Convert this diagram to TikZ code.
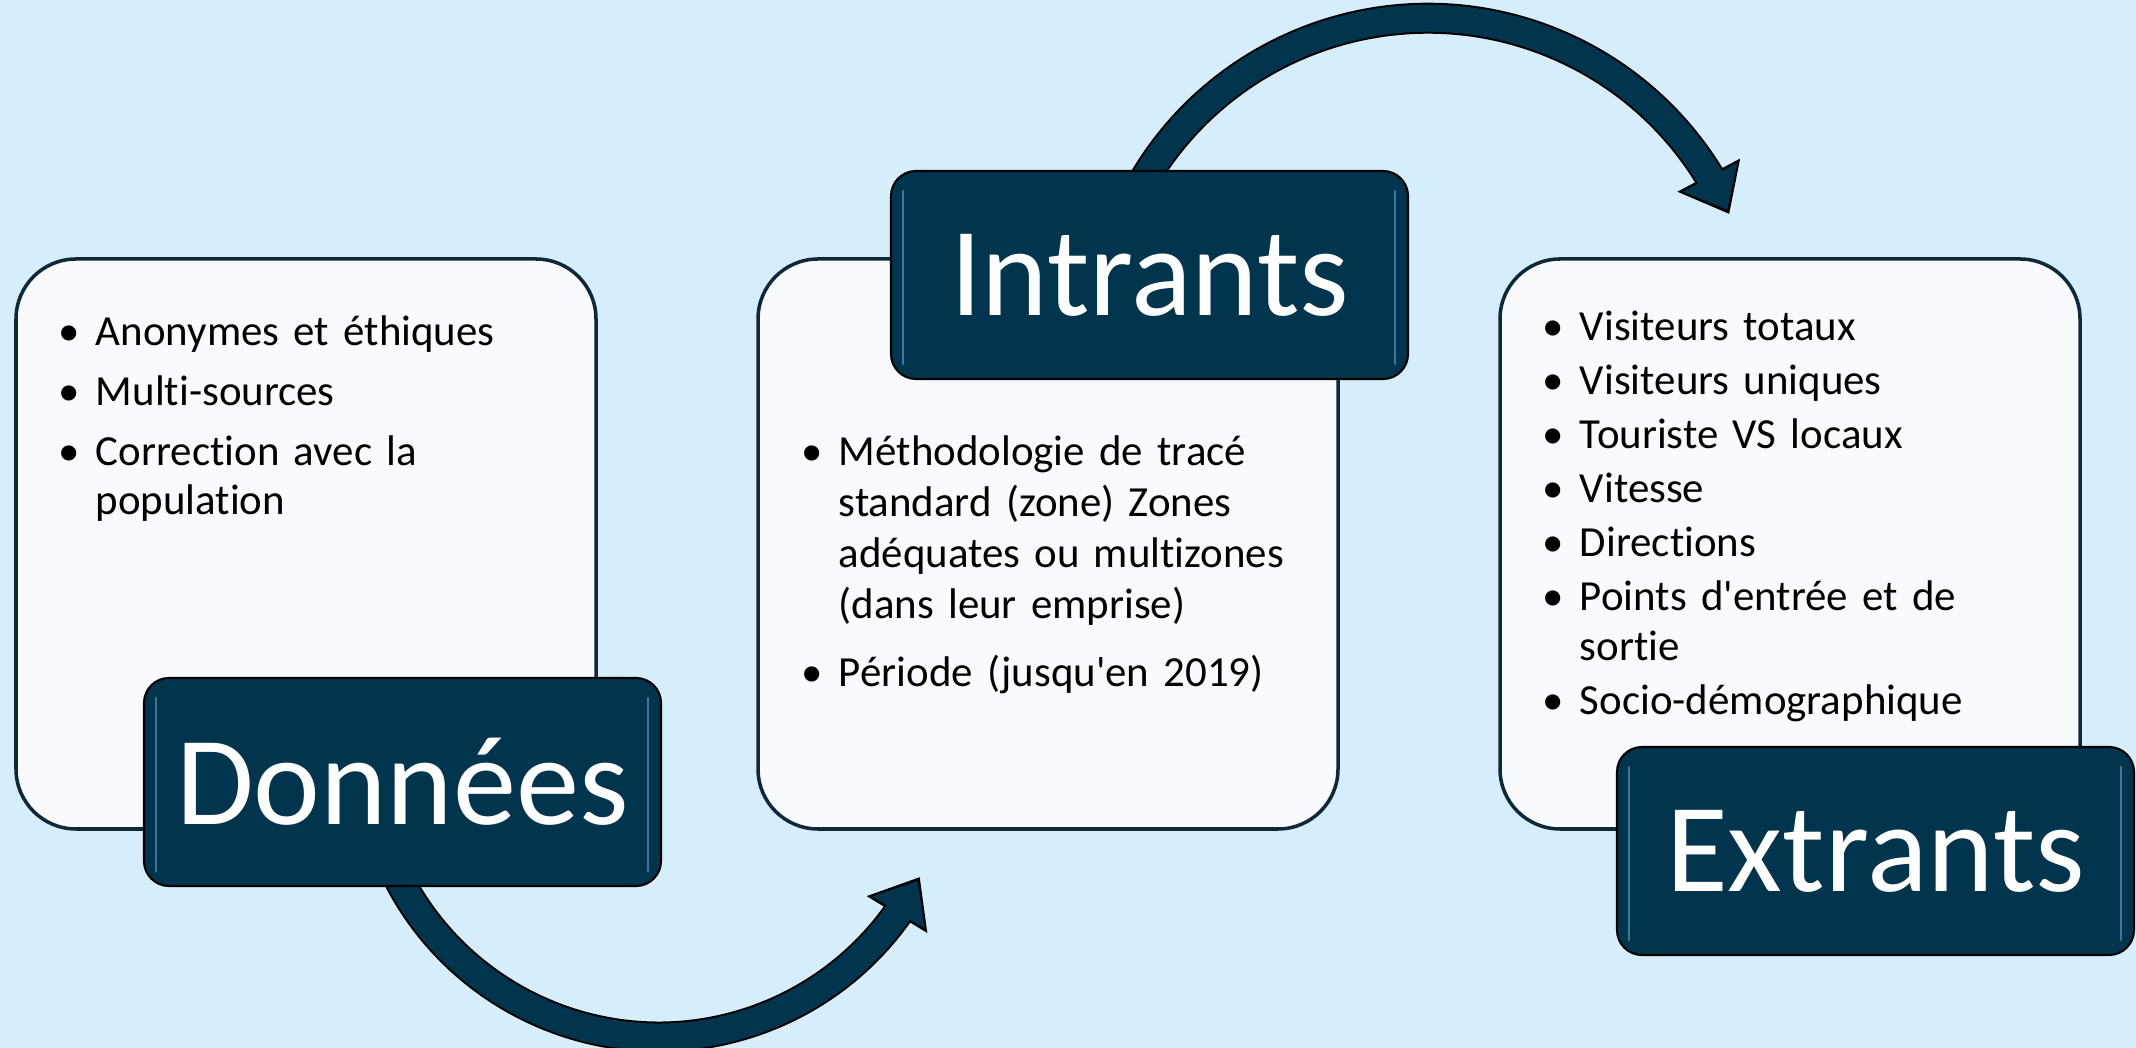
\documentclass[tikz,border=0pt]{standalone}
\usepackage{fontspec}
\setmainfont{Carlito}[Ligatures={TeXOff,NoCommon}]
\usetikzlibrary{positioning, arrows.meta, bending, calc, backgrounds}

\definecolor{fond}{RGB}{214,237,251}
\definecolor{bleunuit}{RGB}{1,52,77}
\definecolor{contour}{RGB}{14,40,56}
\definecolor{reflet}{RGB}{62,118,158}
\definecolor{carton}{RGB}{248,250,253}

\newenvironment{puces}[1]{%
  \begin{list}{\textbullet}{%
    \setlength\leftmargin{10.7pt}\setlength\labelsep{4.7pt}%
    \setlength\labelwidth{6pt}\setlength\itemindent{0pt}%
    \setlength\itemsep{#1}\setlength\parsep{0pt}%
    \setlength\topsep{0pt}\setlength\partopsep{0pt}}}%
  {\end{list}}

\begin{document}
\begin{tikzpicture}[
    carte/.style={draw=contour, line width=1pt, fill=carton, rounded corners=0.6cm,
        minimum width=5.8cm, minimum height=5.7cm, inner sep=0pt, outer sep=0pt},
    etiquette/.style={draw=black, line width=0.6pt, fill=bleunuit, rounded corners=0.25cm,
        minimum width=5.17cm, minimum height=2.08cm, inner sep=0pt, outer sep=0pt,
        text=white, font=\fontsize{36}{43}\selectfont,
        path picture={
            \draw[reflet, line width=0.8pt, line cap=round]
                ([xshift=1.2mm, yshift=-2mm]path picture bounding box.north west)
                -- ([xshift=1.2mm, yshift=1.5mm]path picture bounding box.south west);
            \draw[reflet, line width=0.8pt, line cap=round]
                ([xshift=-1.3mm, yshift=-2mm]path picture bounding box.north east)
                -- ([xshift=-1.3mm, yshift=1.5mm]path picture bounding box.south east);
        }},
    texte/.style={inner sep=0pt, text width=5.2cm, align=left,
        font=\fontsize{12.2}{14.1}\selectfont},
    contourfleche/.style={draw=black, line width=3.1mm,
        -{Triangle[length=4.4mm, width=6.8mm, flex]}},
    fleche/.style={draw=bleunuit, line width=2.7mm, shorten >=0.45mm,
        -{Triangle[length=3.7mm, width=5.9mm, flex]}}
]
    \useasboundingbox (0,0) rectangle (21.36,10.48);

    % cartes
    \node[carte] (donneesbox) at (3.06,5.04) {};
    \node[carte, right=1.62cm of donneesbox] (intrantsbox) {};
    \node[carte, right=1.62cm of intrantsbox] (extrantsbox) {};

    % listes
    \node[texte, below right=0.36cm and 0.414cm of donneesbox.north west] (donneesliste) {%
        \begin{puces}{3pt}
            \item \strut Anonymes et éthiques
            \item Multi-sources
            \item Correction avec la\newline population
        \end{puces}};
    \node[texte, font=\fontsize{12.2}{14.5}\selectfont,
        below right=1.55cm and 0.424cm of intrantsbox.north west] (intrantsliste) {%
        \begin{puces}{4.8pt}
            \item \strut Méthodologie de tracé\newline standard (zone) Zones\newline adéquates ou multizones\newline (dans leur emprise)
            \item Période (jusqu'en 2019)
        \end{puces}};
    \node[texte, below right=0.31cm and 0.414cm of extrantsbox.north west] (extrantsliste) {%
        \begin{puces}{1.3pt}
            \item \strut Visiteurs totaux
            \item Visiteurs uniques
            \item Touriste VS locaux
            \item Vitesse
            \item Directions
            \item Points d'entrée et de\newline sortie
            \item Socio-démographique
        \end{puces}};

    % etiquettes
    \node[etiquette, anchor=south east] (donnees) at ([shift={(0.65,-0.57)}]donneesbox.south east) {Données};
    \node[etiquette, anchor=north east] (intrants) at ([shift={(0.70,0.88)}]intrantsbox.north east) {Intrants};
    \node[etiquette, anchor=south east] (extrants) at ([shift={(0.54,-1.26)}]extrantsbox.south east) {Extrants};

    % fleches
    \begin{scope}[on background layer]
        \fill[fond] (0,0) rectangle (21.36,10.48);
        \coordinate (d0) at ($(donnees.south)-(209:2.93)+(200:2.93)$);
        \coordinate (i0) at ($(intrants.north)-(147.5:3.3)+(155:3.3)$);
        \draw[contourfleche] (d0) arc[start angle=200, end angle=333, radius=2.93];
        \draw[fleche] (d0) arc[start angle=200, end angle=333, radius=2.93];
        \draw[contourfleche] (i0) arc[start angle=155, end angle=24, radius=3.3];
        \draw[fleche] (i0) arc[start angle=155, end angle=24, radius=3.3];
    \end{scope}
\end{tikzpicture}
\end{document}
